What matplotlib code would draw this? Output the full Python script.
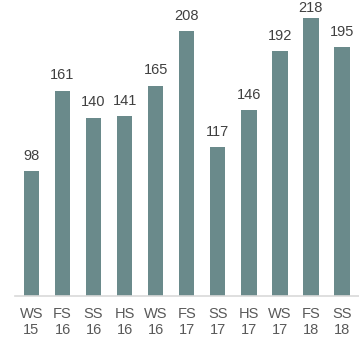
import matplotlib
matplotlib.use("Agg")
import matplotlib.pyplot as plt

categories = ["WS\n15", "FS\n16", "SS\n16", "HS\n16", "WS\n16", "FS\n17", "SS\n17", "HS\n17", "WS\n17", "FS\n18", "SS\n18"]
values = [98, 161, 140, 141, 165, 208, 117, 146, 192, 218, 195]

plt.rcParams['font.family'] = ['Liberation Sans', 'DejaVu Sans']
W = H = 359
fig = plt.figure(figsize=(W/100, H/100), dpi=100)
left_px, right_px, bottom_px = 15, 359, 296
ax = fig.add_axes([left_px/W, (H-bottom_px)/H, (right_px-left_px)/W, bottom_px/H])
x = list(range(len(values)))
ax.bar(x, values, width=0.5, color="#6a8a8b")
ax.set_xlim(-0.53, len(values)-1+0.55)
ax.set_ylim(0, 296/1.275)
for xi, v in zip(x, values):
    ax.text(xi, min(v + 6.5, 220.5), str(v), ha="center", va="bottom",
            fontsize=10.5, color="#404040")
ax.set_xticks(x)
ax.set_xticklabels(categories, fontsize=10.5, color="#595959", linespacing=1.2)
ax.tick_params(axis="x", length=0, pad=8)
ax.set_yticks([])
for s in ["top", "right", "left"]:
    ax.spines[s].set_visible(False)
ax.spines["bottom"].set_color("#d9d9d9")
ax.spines["bottom"].set_linewidth(1.2)
ax.patch.set_alpha(0)
fig.savefig("out.png", dpi=100)
